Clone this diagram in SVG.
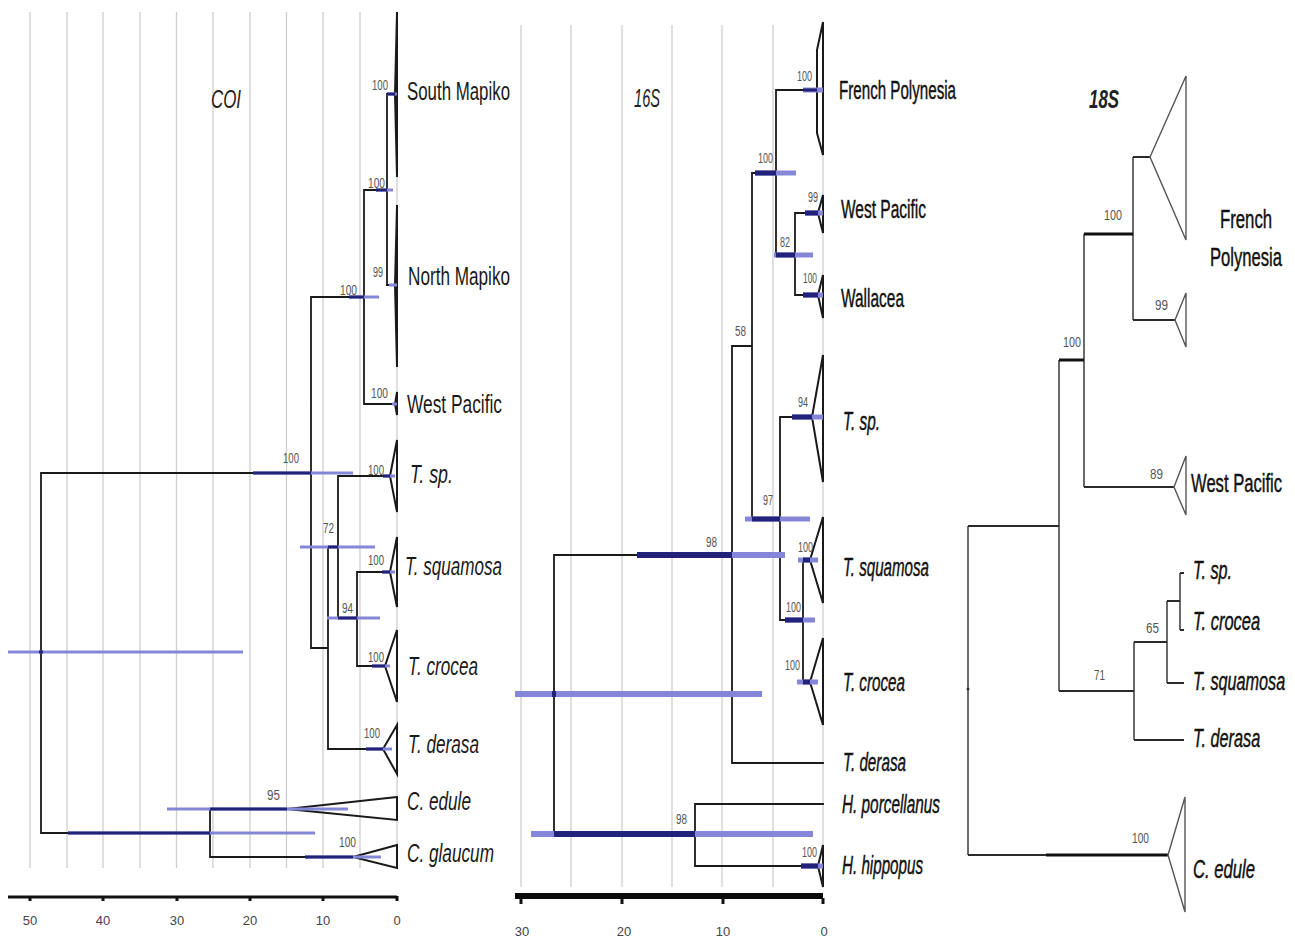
<svg xmlns="http://www.w3.org/2000/svg" width="1295" height="939" viewBox="0 0 1295 939">
<style>
.grid{stroke:#cfcfcf;stroke-width:1.3;fill:none}
.br{stroke:#1a1a1a;stroke-width:1.8;fill:none;stroke-linecap:square}
.tri{stroke:#1a1a1a;stroke-width:2;fill:none;stroke-linejoin:miter}
.br18{stroke:#3a3a3a;stroke-width:1.5;fill:none}
.br18h{stroke:#2a2a2a;stroke-width:2.2;fill:none}
.br18t{stroke:#111;stroke-width:3.2;fill:none}
.tri18{stroke:#555;stroke-width:1.4;fill:none}
.hl{fill:#8686d8}
.hd{fill:#22227a}
.lab{font-family:"Liberation Sans",Arial,sans-serif;font-size:25px;fill:#1a1a1a}
.labb{font-family:"Liberation Sans",Arial,sans-serif;font-size:25px;fill:#111;stroke:#111;stroke-width:0.45}
.it{font-style:italic}
.num{font-family:"Liberation Sans",Arial,sans-serif;font-size:14px;fill:#555}
.ax{font-family:"Liberation Sans",Arial,sans-serif;font-size:13px;fill:#444;text-anchor:middle}
.ttl{font-family:"Liberation Sans",Arial,sans-serif;font-size:25px;font-style:italic;fill:#222}
</style>
<rect width="1295" height="939" fill="#ffffff"/>

<!-- COI grid and axis -->
<g id="coi-grid">
<path class="grid" d="M30,12V868M67,12V868M103,12V868M140,12V868M176.5,12V868M213,12V868M250,12V868M286.5,12V868M323,12V868M360,12V868M397,12V868"/>
<rect x="8" y="895.5" width="389" height="3" fill="#111"/>
<path stroke="#111" stroke-width="3" d="M30,896V901M103,896V901M177,896V901M250,896V901M323,896V901M397,896V901"/>
<text class="ax" x="30" y="925">50</text><text class="ax" x="103" y="925">40</text><text class="ax" x="177" y="925">30</text><text class="ax" x="250" y="925">20</text><text class="ax" x="323" y="925">10</text><text class="ax" x="397" y="925">0</text>
<text class="ttl" x="211" y="108" textLength="30" lengthAdjust="spacingAndGlyphs">COI</text>
</g>

<!-- 16S grid and axis -->
<g id="s16-grid">
<path class="grid" d="M521,25V887M571,25V887M622,25V887M672,25V887M722,25V887M773,25V887M823,25V887"/>
<rect x="515" y="893" width="308" height="6" fill="#0a0a0a"/>
<path stroke="#111" stroke-width="3" d="M521,898V904M622,898V904M723,898V904M823,898V904"/>
<text class="ax" x="522" y="936">30</text><text class="ax" x="624" y="936">20</text><text class="ax" x="723" y="936">10</text><text class="ax" x="824" y="936">0</text>
<text class="ttl" x="634" y="107" textLength="26" lengthAdjust="spacingAndGlyphs">16S</text>
</g>

<g id="s18-title">
<text class="ttl" x="1089" y="108" font-weight="bold" textLength="30" lengthAdjust="spacingAndGlyphs">18S</text>
</g>

<!-- connectors: branches -->
<g id="connectors">
<path class="br" d="M41,473V833M41,473H311M41,833H210
M311,297V648M311,297H364M311,648H328
M364,190V404M364,190H387M364,404H395
M387,94V285M387,94H395M387,285H395
M328,547V749M328,547H338M328,749H383
M338,476V618M338,476H390M338,618H357
M357,572V666M357,572H390M357,666H385
M210,809V857M210,809H287M210,857H353"/>
<path class="br" d="M554,555V834M554,555H732M554,834H695
M732,346V763M732,346H752M732,763H823
M752,173V519M752,173H776M752,519H780
M776,90V255M776,90H817M776,255H795
M795,213V295M795,213H818M795,295H818
M780,417V620M780,417H812M780,620H803
M803,560V682M803,560H810M803,682H810
M695,804V866M695,804H823M695,866H818"/>
<path class="br18" d="M968,526V855M1059,360V691M1084,234V487M1133,157V320M1134,642V740M1167,601V683M1180,573V630"/>
<path class="br18h" d="M968,526H1059M968,855H1046M1059,691H1134M1084,487H1174M1133,157H1150M1133,320H1175M1134,642H1167M1134,740H1184M1167,601H1180M1167,683H1184M1180,573H1184M1180,630H1184"/>
<path class="br18t" d="M1046,855H1168M1059,360H1084M1084,234H1133"/>
<circle cx="968" cy="689" r="1.5" fill="#333"/>
</g>

<!-- COI clade nodes -->
<g id="coi-south-mapiko"><path class="tri" d="M397,12L395,94L397,177Z"/><text class="lab" x="407" y="100" textLength="103" lengthAdjust="spacingAndGlyphs">South Mapiko</text></g>
<g id="coi-north-mapiko"><path class="tri" d="M397,205L395,285L397,367Z"/><text class="lab" x="408" y="285" textLength="102" lengthAdjust="spacingAndGlyphs">North Mapiko</text></g>
<g id="coi-west-pacific"><path class="tri" d="M397,392L395,404L397,415Z"/><text class="lab" x="407" y="413" textLength="95" lengthAdjust="spacingAndGlyphs">West Pacific</text></g>
<g id="coi-t-sp"><path class="tri" d="M397,440L390,476L397,512Z"/><text class="lab it" x="410" y="483" textLength="43" lengthAdjust="spacingAndGlyphs">T. sp.</text></g>
<g id="coi-t-squamosa"><path class="tri" d="M397,537L390,572L397,607Z"/><text class="lab it" x="405" y="575" textLength="97" lengthAdjust="spacingAndGlyphs">T. squamosa</text></g>
<g id="coi-t-crocea"><path class="tri" d="M397,630L385,666L397,702Z"/><text class="lab it" x="408" y="675" textLength="70" lengthAdjust="spacingAndGlyphs">T. crocea</text></g>
<g id="coi-t-derasa"><path class="tri" d="M397,725L383,749L397,774Z"/><text class="lab it" x="408" y="753" textLength="71" lengthAdjust="spacingAndGlyphs">T. derasa</text></g>
<g id="coi-c-edule"><path class="tri" d="M397,797L287,809L397,820Z"/><text class="lab it" x="407" y="810" textLength="64" lengthAdjust="spacingAndGlyphs">C. edule</text></g>
<g id="coi-c-glaucum"><path class="tri" d="M397,845L353,857L397,868Z"/><text class="lab it" x="407" y="862" textLength="87" lengthAdjust="spacingAndGlyphs">C. glaucum</text></g>

<!-- 16S clade nodes -->
<g id="s16-french-polynesia"><path class="tri" d="M823,22L817,50L817,133L823,155Z"/><text class="labb" x="839" y="99" textLength="117" lengthAdjust="spacingAndGlyphs">French Polynesia</text></g>
<g id="s16-west-pacific"><path class="tri" d="M823,195L818,213L823,233Z"/><text class="labb" x="841" y="218" textLength="85" lengthAdjust="spacingAndGlyphs">West Pacific</text></g>
<g id="s16-wallacea"><path class="tri" d="M823,275L818,295L823,318Z"/><text class="labb" x="841" y="307" textLength="63" lengthAdjust="spacingAndGlyphs">Wallacea</text></g>
<g id="s16-t-sp"><path class="tri" d="M823,355L812,417L823,482Z"/><text class="labb it" x="843" y="430" textLength="37" lengthAdjust="spacingAndGlyphs">T. sp.</text></g>
<g id="s16-t-squamosa"><path class="tri" d="M823,517L810,560L823,603Z"/><text class="labb it" x="843" y="576" textLength="86" lengthAdjust="spacingAndGlyphs">T. squamosa</text></g>
<g id="s16-t-crocea"><path class="tri" d="M823,638L810,682L823,725Z"/><text class="labb it" x="843" y="691" textLength="62" lengthAdjust="spacingAndGlyphs">T. crocea</text></g>
<g id="s16-t-derasa"><text class="labb it" x="843" y="771" textLength="63" lengthAdjust="spacingAndGlyphs">T. derasa</text></g>
<g id="s16-h-porcellanus"><text class="labb it" x="842" y="813" textLength="98" lengthAdjust="spacingAndGlyphs">H. porcellanus</text></g>
<g id="s16-h-hippopus"><path class="tri" d="M823,845L818,866L823,887Z"/><text class="labb it" x="842" y="874" textLength="81" lengthAdjust="spacingAndGlyphs">H. hippopus</text></g>

<!-- 18S clade nodes -->
<g id="s18-french-polynesia"><path class="tri18" d="M1186,76L1150,157L1186,240Z"/><path class="tri18" d="M1186,293L1175,320L1186,347Z"/>
<text class="labb" transform="translate(1246,228) scale(0.66,1)" x="0" y="0" text-anchor="middle" textLength="79" lengthAdjust="spacingAndGlyphs">French</text>
<text class="labb" transform="translate(1246,266) scale(0.66,1)" x="0" y="0" text-anchor="middle" textLength="109" lengthAdjust="spacingAndGlyphs">Polynesia</text></g>
<g id="s18-west-pacific"><path class="tri18" d="M1186,456L1174,487L1186,515Z"/><text class="labb" transform="translate(1191,492) scale(0.66,1)" x="0" y="0" textLength="138" lengthAdjust="spacingAndGlyphs">West Pacific</text></g>
<g id="s18-t-sp"><text class="labb it" transform="translate(1193,579) scale(0.64,1)" x="0" y="0" textLength="61" lengthAdjust="spacingAndGlyphs">T. sp.</text></g>
<g id="s18-t-crocea"><text class="labb it" transform="translate(1193,630) scale(0.64,1)" x="0" y="0" textLength="105" lengthAdjust="spacingAndGlyphs">T. crocea</text></g>
<g id="s18-t-squamosa"><text class="labb it" transform="translate(1193,690) scale(0.64,1)" x="0" y="0" textLength="144" lengthAdjust="spacingAndGlyphs">T. squamosa</text></g>
<g id="s18-t-derasa"><text class="labb it" transform="translate(1193,747) scale(0.64,1)" x="0" y="0" textLength="105" lengthAdjust="spacingAndGlyphs">T. derasa</text></g>
<g id="s18-c-edule"><path class="tri18" d="M1185,797L1168,855L1185,912Z"/><text class="labb it" transform="translate(1193,878) scale(0.64,1)" x="0" y="0" textLength="97" lengthAdjust="spacingAndGlyphs">C. edule</text></g>

<!-- HPD bars -->
<g id="coi-bars">
<rect class="hl" x="387" y="92.5" width="10" height="3"/><rect class="hd" x="387" y="92.5" width="8" height="3"/>
<rect class="hl" x="376" y="188.5" width="17" height="3"/><rect class="hd" x="376" y="188.5" width="11" height="3"/>
<rect class="hl" x="389" y="283.5" width="8" height="3"/>
<rect class="hl" x="349" y="295.5" width="30" height="3"/><rect class="hd" x="349" y="295.5" width="15" height="3"/>
<rect class="hl" x="392" y="402.5" width="5" height="3"/>
<rect class="hl" x="253" y="471.5" width="100" height="3"/><rect class="hd" x="253" y="471.5" width="58" height="3"/>
<rect class="hl" x="383" y="474.5" width="12" height="3"/><rect class="hd" x="383" y="474.5" width="7" height="3"/>
<rect class="hl" x="300" y="545.5" width="75" height="3"/><rect class="hd" x="328" y="545.5" width="10" height="3"/>
<rect class="hl" x="382" y="570.5" width="13" height="3"/><rect class="hd" x="382" y="570.5" width="8" height="3"/>
<rect class="hl" x="327" y="616.5" width="53" height="3"/><rect class="hd" x="338" y="616.5" width="19" height="3"/>
<rect class="hl" x="8" y="650.5" width="235" height="3"/><rect class="hd" x="39" y="650.5" width="4" height="3"/>
<rect class="hl" x="372" y="664.5" width="18" height="3"/><rect class="hd" x="372" y="664.5" width="13" height="3"/>
<rect class="hl" x="366" y="747.5" width="26" height="3"/><rect class="hd" x="366" y="747.5" width="17" height="3"/>
<rect class="hl" x="167" y="807.5" width="181" height="3"/><rect class="hd" x="210" y="807.5" width="77" height="3"/>
<rect class="hl" x="68" y="831.5" width="247" height="3"/><rect class="hd" x="68" y="831.5" width="142" height="3"/>
<rect class="hl" x="305" y="855.5" width="76" height="3"/><rect class="hd" x="305" y="855.5" width="48" height="3"/>
</g>
<g id="s16-bars">
<rect class="hl" x="803" y="87.5" width="20" height="5"/><rect class="hd" x="803" y="88.5" width="14" height="3"/>
<rect class="hl" x="755" y="170.5" width="41" height="5"/><rect class="hd" x="755" y="170.5" width="21" height="5"/>
<rect class="hl" x="805" y="210.5" width="18" height="5"/><rect class="hd" x="805" y="210.5" width="13" height="5"/>
<rect class="hl" x="774" y="252.5" width="39" height="5"/><rect class="hd" x="776" y="252.5" width="19" height="5"/>
<rect class="hl" x="803" y="292.5" width="20" height="5"/><rect class="hd" x="803" y="292.5" width="15" height="5"/>
<rect class="hl" x="792" y="414.5" width="31" height="5"/><rect class="hd" x="792" y="414.5" width="20" height="5"/>
<rect class="hl" x="745" y="516.5" width="65" height="5"/><rect class="hd" x="752" y="516.5" width="28" height="5"/>
<rect class="hl" x="637" y="552" width="148" height="6"/><rect class="hd" x="637" y="552" width="95" height="6"/>
<rect class="hl" x="798" y="557.5" width="20" height="5"/><rect class="hd" x="803" y="557.5" width="7" height="5"/>
<rect class="hl" x="785" y="617.5" width="30" height="5"/><rect class="hd" x="785" y="617.5" width="18" height="5"/>
<rect class="hl" x="797" y="679.5" width="21" height="5"/><rect class="hd" x="803" y="679.5" width="7" height="5"/>
<rect class="hl" x="515" y="691" width="247" height="6"/><rect class="hd" x="552" y="691" width="4" height="6"/>
<rect class="hl" x="531" y="831" width="282" height="6"/><rect class="hd" x="554" y="831" width="141" height="6"/>
<rect class="hl" x="801" y="863.5" width="22" height="5"/><rect class="hd" x="801" y="863.5" width="17" height="5"/>
</g>

<!-- support values -->
<g id="coi-support">
<text class="num" x="372" y="90" textLength="16" lengthAdjust="spacingAndGlyphs">100</text>
<text class="num" x="368" y="188" textLength="17" lengthAdjust="spacingAndGlyphs">100</text>
<text class="num" x="373" y="277" textLength="10" lengthAdjust="spacingAndGlyphs">99</text>
<text class="num" x="340" y="295" textLength="17" lengthAdjust="spacingAndGlyphs">100</text>
<text class="num" x="371" y="398" textLength="17" lengthAdjust="spacingAndGlyphs">100</text>
<text class="num" x="283" y="463" textLength="16" lengthAdjust="spacingAndGlyphs">100</text>
<text class="num" x="368" y="475" textLength="16" lengthAdjust="spacingAndGlyphs">100</text>
<text class="num" x="323" y="533" textLength="11" lengthAdjust="spacingAndGlyphs">72</text>
<text class="num" x="368" y="565" textLength="16" lengthAdjust="spacingAndGlyphs">100</text>
<text class="num" x="342" y="613" textLength="11" lengthAdjust="spacingAndGlyphs">94</text>
<text class="num" x="368" y="662" textLength="16" lengthAdjust="spacingAndGlyphs">100</text>
<text class="num" x="364" y="738" textLength="16" lengthAdjust="spacingAndGlyphs">100</text>
<text class="num" x="267" y="800" textLength="13" lengthAdjust="spacingAndGlyphs">95</text>
<text class="num" x="339" y="847" textLength="17" lengthAdjust="spacingAndGlyphs">100</text>
</g>
<g id="s16-support">
<text class="num" x="797" y="81" textLength="15" lengthAdjust="spacingAndGlyphs">100</text>
<text class="num" x="758" y="163" textLength="15" lengthAdjust="spacingAndGlyphs">100</text>
<text class="num" x="808" y="202" textLength="10" lengthAdjust="spacingAndGlyphs">99</text>
<text class="num" x="780" y="247" textLength="10" lengthAdjust="spacingAndGlyphs">82</text>
<text class="num" x="803" y="283" textLength="14" lengthAdjust="spacingAndGlyphs">100</text>
<text class="num" x="735" y="336" textLength="11" lengthAdjust="spacingAndGlyphs">58</text>
<text class="num" x="798" y="407" textLength="10" lengthAdjust="spacingAndGlyphs">94</text>
<text class="num" x="763" y="505" textLength="10" lengthAdjust="spacingAndGlyphs">97</text>
<text class="num" x="706" y="547" textLength="11" lengthAdjust="spacingAndGlyphs">98</text>
<text class="num" x="798" y="552" textLength="15" lengthAdjust="spacingAndGlyphs">100</text>
<text class="num" x="786" y="612" textLength="15" lengthAdjust="spacingAndGlyphs">100</text>
<text class="num" x="785" y="670" textLength="15" lengthAdjust="spacingAndGlyphs">100</text>
<text class="num" x="676" y="824" textLength="11" lengthAdjust="spacingAndGlyphs">98</text>
<text class="num" x="802" y="857" textLength="15" lengthAdjust="spacingAndGlyphs">100</text>
</g>
<g id="s18-support">
<text class="num" x="1104" y="220" textLength="18" lengthAdjust="spacingAndGlyphs">100</text>
<text class="num" x="1155" y="310" textLength="13" lengthAdjust="spacingAndGlyphs">99</text>
<text class="num" x="1063" y="347" textLength="18" lengthAdjust="spacingAndGlyphs">100</text>
<text class="num" x="1150" y="479" textLength="13" lengthAdjust="spacingAndGlyphs">89</text>
<text class="num" x="1146" y="633" textLength="13" lengthAdjust="spacingAndGlyphs">65</text>
<text class="num" x="1094" y="680" textLength="11" lengthAdjust="spacingAndGlyphs">71</text>
<text class="num" x="1132" y="843" textLength="17" lengthAdjust="spacingAndGlyphs">100</text>
</g>
</svg>
